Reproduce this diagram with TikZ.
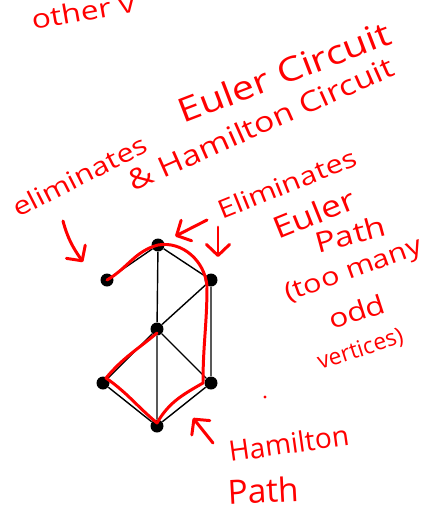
\documentclass[tikz,border=0pt]{standalone}
\usepackage{fontspec}
\setmainfont{Open Sans}
\newfontfamily\wideink[FakeStretch=1.2]{Open Sans}
\usetikzlibrary{arrows.meta,positioning}
\tikzset{
  vtx/.style={circle, fill=black, inner sep=0pt, minimum size=2.6mm},
  edge/.style={line width=0.8pt},
  ink/.style={red, line width=1.7pt, line cap=round, line join=round},
  note/.style={text=red, inner sep=0pt, anchor=base west},
  pointer/.style={ink, -{Straight Barb[round, length=2.2mm, width=4.6mm]}}
}

\begin{document}
\begin{tikzpicture}[x=0.2mm, y=0.2mm]
    \useasboundingbox (0,0) rectangle (433,-514);
    \clip (0,0) rectangle (433,-514);
    % graph
    \node[vtx] (t) at (158,-245) {};
    \node[vtx] (lu) at (107,-280) {};
    \node[vtx] (ru) at (211,-280) {};
    \node[vtx] (m) at (157,-329) {};
    \node[vtx] (ll) at (103,-383) {};
    \node[vtx] (rl) at (211,-383) {};
    \node[vtx] (b) at (157,-426) {};
    \draw[edge] (t) -- (lu) (t) -- (ru) (t) -- (m) (ru) -- (m) (ru) -- (rl)
      (m) -- (ll) (m) -- (rl) (m) -- (b) (ll) -- (b) (rl) -- (b);
    % hamilton path
    \draw[ink] (lu.center) to[out=30,in=195] (t.center)
      to[out=10,in=95] ([xshift=-0.8mm,yshift=-1.2mm]ru.center)
      to[out=-90,in=90] ([xshift=-1.6mm]rl.center)
      to[out=-150,in=60] ([yshift=0.6mm]b.center)
      to[out=140,in=-35] ([xshift=0.6mm,yshift=1mm]ll.center)
      to[out=50,in=220] ([yshift=-0.8mm]m.center);
    % notes
    \node[note, rotate=10, font=\wideink\fontsize{15}{18}\selectfont] (oth) at (33,-30) {other v};
    \node[note, rotate=21, font=\wideink\fontsize{19}{20}\selectfont] (ec) at (183,-124) {Euler Circuit};
    \node[note, rotate=24, font=\wideink\fontsize{16}{18}\selectfont] (hc) at (133,-192) {\& Hamilton Circuit};
    \node[note, rotate=27, font=\wideink\fontsize{14.5}{18}\selectfont] (el1) at (18,-218) {eliminates};
    \node[note, rotate=22, font=\wideink\fontsize{14.5}{18}\selectfont] (el2) at (222,-220) {Eliminates};
    \node[note, rotate=22, font=\wideink\fontsize{17}{18}\selectfont] (eu) at (278,-240) {Euler};
    \node[note, rotate=15, font=\wideink\fontsize{16}{18}\selectfont] (pa) at (318,-254) {Path};
    \node[note, rotate=20, font=\wideink\fontsize{14.5}{18}\selectfont] (tm) at (288,-302) {(too many};
    \node[note, rotate=18, font=\wideink\fontsize{15}{18}\selectfont] (od) at (332,-330) {odd};
    \node[note, rotate=18, font=\fontsize{13}{18}\selectfont] (ve) at (320,-370) {vertices)};
    \node[note, rotate=8, font=\fontsize{16}{18}\selectfont] (hm) at (230,-462) {Hamilton};
    \node[note, rotate=3, font=\fontsize{19}{20}\selectfont] (hp) at (228,-505) {Path};
    % pointers
    \coordinate (p1s) at (63,-221);
    \coordinate (p1e) at (83,-262);
    \draw[pointer] (p1s) to[out=-75,in=125] (p1e);
    \coordinate (p2s) at (207,-220);
    \draw[pointer, shorten >=2.5mm] (p2s) -- (t);
    \coordinate (p3s) at (218,-227);
    \coordinate (p3e) at (218,-257);
    \draw[pointer] (p3s) -- (p3e);
    \coordinate (p4s) at (213,-443);
    \coordinate (p4e) at (193,-418);
    \draw[pointer] (p4s) -- (p4e);
    \fill[red] (265,-397) circle (1.6);
\end{tikzpicture}
\end{document}
